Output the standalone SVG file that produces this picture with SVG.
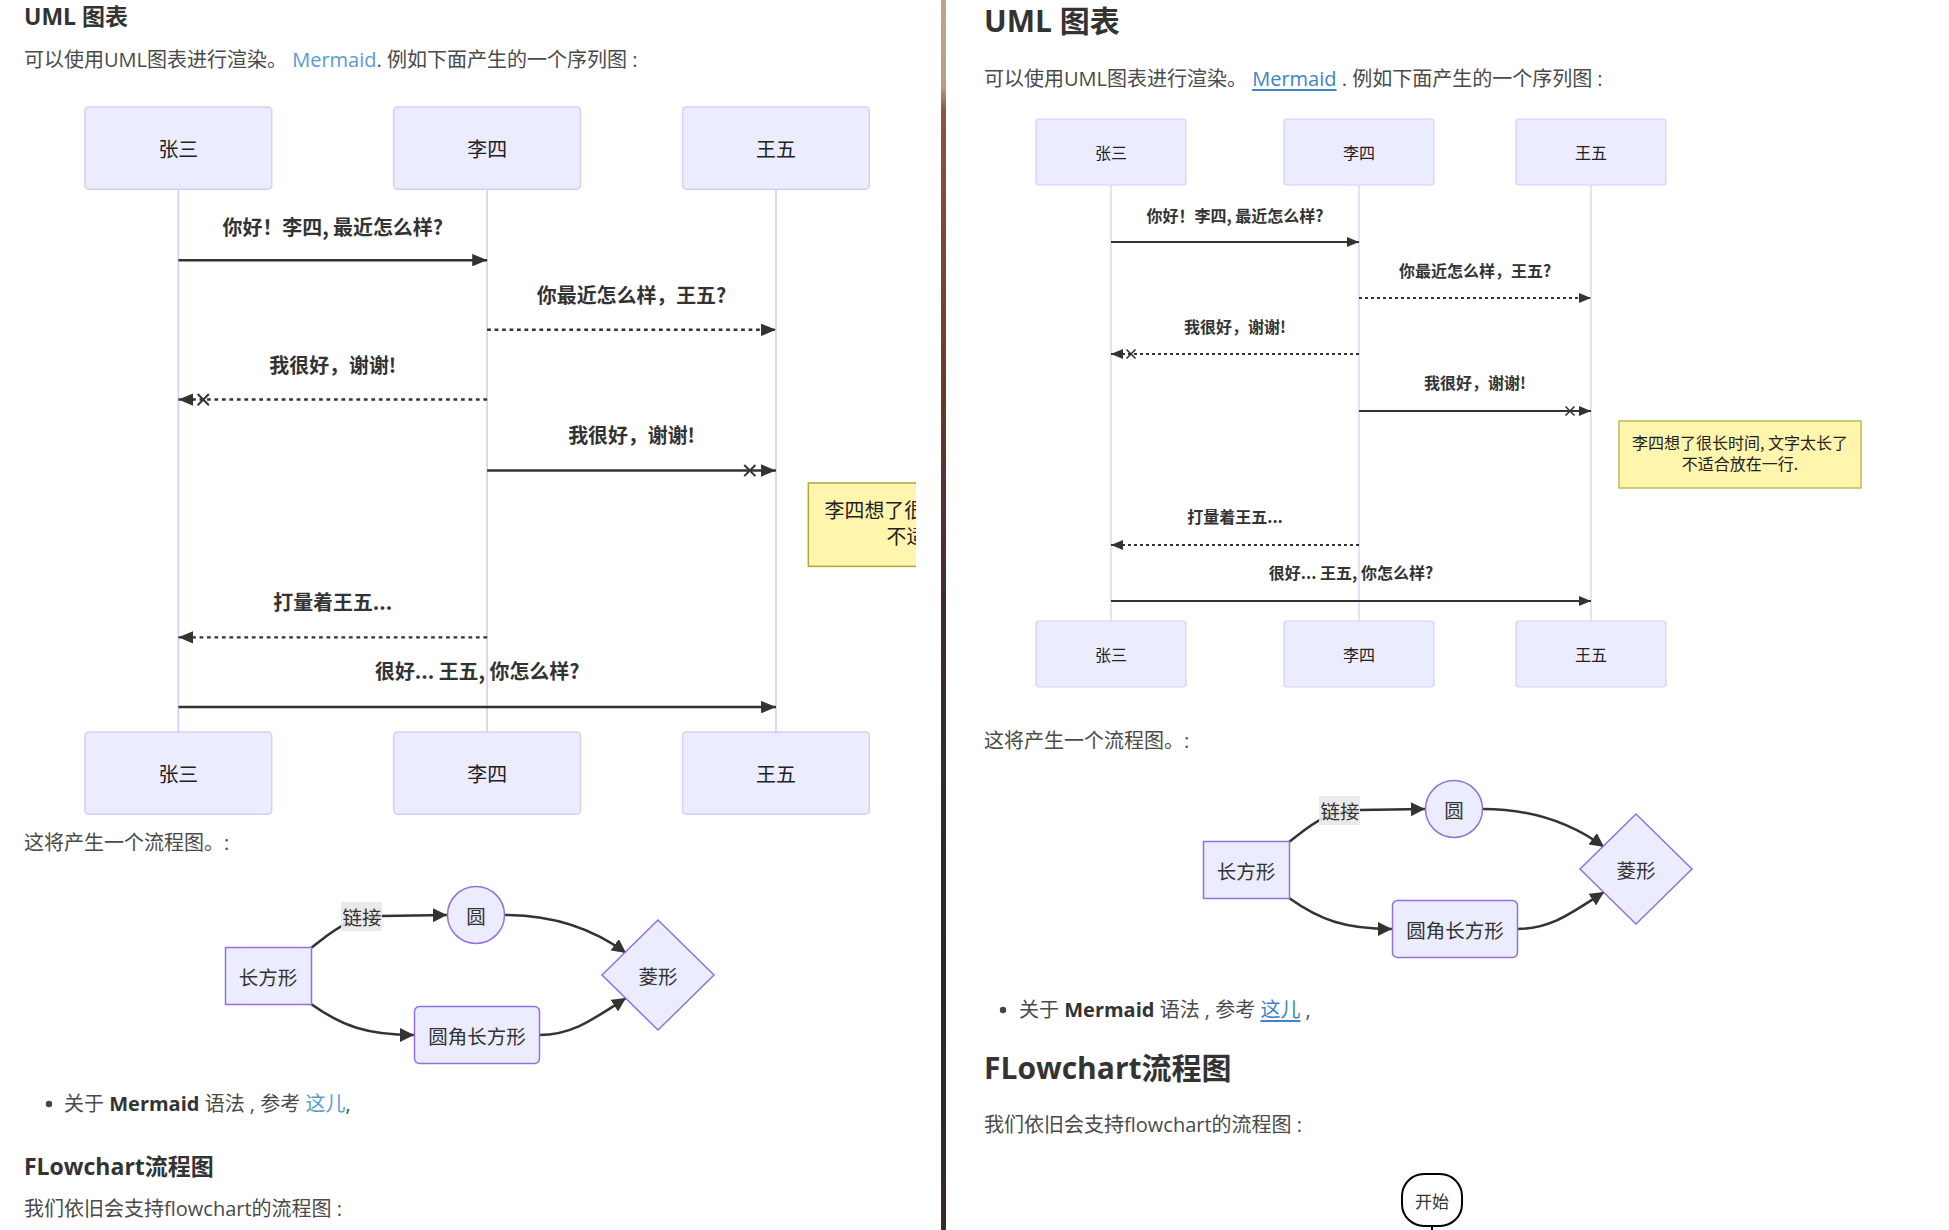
<svg xmlns="http://www.w3.org/2000/svg" width="1949" height="1230" viewBox="0 0 1949 1230">
<style>
.page{font-family:"Open Sans","Noto Sans CJK SC",sans-serif;dominant-baseline:central}
.h1l{font-size:23px;font-weight:bold;fill:#333}
.h1r{font-size:30px;font-weight:bold;fill:#333}
.body{font-size:20px;fill:#4a4a4a}
.link{fill:#4183c4}
.bullet{fill:#444}
.actor rect{fill:#ECECFF;stroke:#D7CDF5;stroke-width:1.2}
.actor text,.note text{font-family:"Noto Sans CJK SC",sans-serif;font-size:16px;fill:#222;text-anchor:middle;dominant-baseline:central}
.life{stroke:#DACEF3;stroke-width:1.3}
.msg{stroke:#333;stroke-width:2;fill:none}
.dot{stroke-dasharray:3,3}
.mlabel{font-family:"Noto Sans CJK SC",sans-serif;font-size:16px;font-weight:bold;fill:#333;text-anchor:middle;dominant-baseline:central}
.cross{stroke:#333;stroke-width:1.6;fill:none}
.note rect{fill:#FFF5AD;stroke:#AAAA33;stroke-width:1.2}
.fnode{fill:#ECECFF;stroke:#9370DB;stroke-width:1.5}
.ftext{font-family:"Noto Sans CJK SC",sans-serif;font-size:19.5px;fill:#333;text-anchor:middle;dominant-baseline:central}
.fedge{stroke:#333;stroke-width:2.5;fill:none}
</style>
<defs>
<marker id="seqArrow" markerUnits="userSpaceOnUse" viewBox="0 0 12 10" refX="12" refY="5" markerWidth="12" markerHeight="10" orient="auto">
<path d="M0,0 L12,5 L0,10 z" fill="#333"/>
</marker>
<marker id="fArrow" markerUnits="userSpaceOnUse" viewBox="0 0 10 10" refX="10" refY="5" markerWidth="14" markerHeight="14" orient="auto">
<path d="M0,0 L10,5 L0,10 z" fill="#333"/>
</marker>
<clipPath id="leftClip"><rect x="0" y="0" width="916" height="1230"/></clipPath>
<linearGradient id="divGrad" x1="0" y1="0" x2="0" y2="1">
<stop offset="0" stop-color="#b9a692"/>
<stop offset="0.07" stop-color="#b3a08b"/>
<stop offset="0.09" stop-color="#8c5446"/>
<stop offset="0.3" stop-color="#6b3b33"/>
<stop offset="0.5" stop-color="#3d2d2b"/>
<stop offset="0.8" stop-color="#2e2626"/>
<stop offset="1" stop-color="#3a2a26"/>
</linearGradient>
</defs>
<rect x="0" y="0" width="1949" height="1230" fill="#ffffff"/>
<rect x="941" y="0" width="5" height="1230" fill="url(#divGrad)"/>

<!-- LEFT PANE TEXT -->
<g class="page">
<text class="h1l" x="24" y="16">UML 图表</text>
<text class="body" x="24" y="59">可以使用UML图表进行渲染。 <tspan fill="#5b9bd1">Mermaid</tspan>. 例如下面产生的一个序列图 :</text>
<text class="body" x="24" y="842">这将产生一个流程图。:</text>
<circle class="bullet" cx="49" cy="1104" r="3.2"/>
<text class="body" x="64" y="1103">关于 <tspan font-weight="bold" fill="#333">Mermaid</tspan> 语法 , 参考 <tspan fill="#5b9bd1">这儿</tspan>,</text>
<text class="h1l" x="24" y="1166">FLowchart流程图</text>
<text class="body" x="24" y="1208">我们依旧会支持flowchart的流程图 :</text>
</g>

<!-- RIGHT PANE TEXT -->
<g class="page">
<text class="h1r" x="984" y="20">UML 图表</text>
<text class="body" x="984" y="78">可以使用UML图表进行渲染。 <tspan class="link" text-decoration="underline">Mermaid</tspan> . 例如下面产生的一个序列图 :</text>
<text class="body" x="984" y="740">这将产生一个流程图。:</text>
<circle class="bullet" cx="1003" cy="1010" r="3.2"/>
<text class="body" x="1019" y="1009">关于 <tspan font-weight="bold" fill="#333">Mermaid</tspan> 语法 , 参考 <tspan class="link" text-decoration="underline">这儿</tspan> ,</text>
<text class="h1r" x="984" y="1067">FLowchart流程图</text>
<text class="body" x="984" y="1124">我们依旧会支持flowchart的流程图 :</text>
</g>

<!-- LEFT SEQUENCE DIAGRAM -->
<g clip-path="url(#leftClip)">
<g id="l-seq" transform="translate(85,107) scale(1.245)">
<g id="l-lifelines">
<line class="life" x1="75" y1="66" x2="75" y2="502"/>
<line class="life" x1="323" y1="66" x2="323" y2="502"/>
<line class="life" x1="555" y1="66" x2="555" y2="502"/>
</g>
<g id="l-actor-zs-top" class="actor"><rect x="0" y="0" width="150" height="66" rx="3"/><text x="75" y="33">张三</text></g>
<g id="l-actor-ls-top" class="actor"><rect x="248" y="0" width="150" height="66" rx="3"/><text x="323" y="33">李四</text></g>
<g id="l-actor-ww-top" class="actor"><rect x="480" y="0" width="150" height="66" rx="3"/><text x="555" y="33">王五</text></g>
<g id="l-actor-zs-bot" class="actor"><rect x="0" y="502" width="150" height="66" rx="3"/><text x="75" y="535">张三</text></g>
<g id="l-actor-ls-bot" class="actor"><rect x="248" y="502" width="150" height="66" rx="3"/><text x="323" y="535">李四</text></g>
<g id="l-actor-ww-bot" class="actor"><rect x="480" y="502" width="150" height="66" rx="3"/><text x="555" y="535">王五</text></g>
<g id="l-messages">
<text class="mlabel" x="199" y="96">你好！李四, 最近怎么样?</text>
<line class="msg" x1="75" y1="123" x2="323" y2="123" marker-end="url(#seqArrow)"/>
<text class="mlabel" x="439" y="151">你最近怎么样，王五?</text>
<line class="msg dot" x1="323" y1="179" x2="555" y2="179" marker-end="url(#seqArrow)"/>
<text class="mlabel" x="199" y="207">我很好，谢谢!</text>
<line class="msg dot" x1="323" y1="235" x2="75" y2="235" marker-end="url(#seqArrow)"/>
<path class="cross" d="M90.5,230.5 L99.5,239.5 M99.5,230.5 L90.5,239.5"/>
<text class="mlabel" x="439" y="263">我很好，谢谢!</text>
<line class="msg" x1="323" y1="292" x2="555" y2="292" marker-end="url(#seqArrow)"/>
<path class="cross" d="M529.5,287.5 L538.5,296.5 M538.5,287.5 L529.5,296.5"/>
<text class="mlabel" x="199" y="397">打量着王五...</text>
<line class="msg dot" x1="323" y1="426" x2="75" y2="426" marker-end="url(#seqArrow)"/>
<text class="mlabel" x="315" y="453">很好... 王五, 你怎么样?</text>
<line class="msg" x1="75" y1="482" x2="555" y2="482" marker-end="url(#seqArrow)"/>
</g>
<g id="l-note" class="note"><rect x="581" y="302" width="242" height="67"/><text x="702" y="323">李四想了很长时间, 文字太长了</text><text x="702" y="344">不适合放在一行.</text></g>
</g>
</g>

<!-- RIGHT SEQUENCE DIAGRAM -->
<g id="r-seq" transform="translate(1036,119)">
<g id="r-lifelines">
<line class="life" x1="75" y1="66" x2="75" y2="502"/>
<line class="life" x1="323" y1="66" x2="323" y2="502"/>
<line class="life" x1="555" y1="66" x2="555" y2="502"/>
</g>
<g id="r-actor-zs-top" class="actor"><rect x="0" y="0" width="150" height="66" rx="3"/><text x="75" y="33">张三</text></g>
<g id="r-actor-ls-top" class="actor"><rect x="248" y="0" width="150" height="66" rx="3"/><text x="323" y="33">李四</text></g>
<g id="r-actor-ww-top" class="actor"><rect x="480" y="0" width="150" height="66" rx="3"/><text x="555" y="33">王五</text></g>
<g id="r-actor-zs-bot" class="actor"><rect x="0" y="502" width="150" height="66" rx="3"/><text x="75" y="535">张三</text></g>
<g id="r-actor-ls-bot" class="actor"><rect x="248" y="502" width="150" height="66" rx="3"/><text x="323" y="535">李四</text></g>
<g id="r-actor-ww-bot" class="actor"><rect x="480" y="502" width="150" height="66" rx="3"/><text x="555" y="535">王五</text></g>
<g id="r-messages">
<text class="mlabel" x="199" y="96">你好！李四, 最近怎么样?</text>
<line class="msg" x1="75" y1="123" x2="323" y2="123" marker-end="url(#seqArrow)"/>
<text class="mlabel" x="439" y="151">你最近怎么样，王五?</text>
<line class="msg dot" x1="323" y1="179" x2="555" y2="179" marker-end="url(#seqArrow)"/>
<text class="mlabel" x="199" y="207">我很好，谢谢!</text>
<line class="msg dot" x1="323" y1="235" x2="75" y2="235" marker-end="url(#seqArrow)"/>
<path class="cross" d="M90.5,230.5 L99.5,239.5 M99.5,230.5 L90.5,239.5"/>
<text class="mlabel" x="439" y="263">我很好，谢谢!</text>
<line class="msg" x1="323" y1="292" x2="555" y2="292" marker-end="url(#seqArrow)"/>
<path class="cross" d="M529.5,287.5 L538.5,296.5 M538.5,287.5 L529.5,296.5"/>
<text class="mlabel" x="199" y="397">打量着王五...</text>
<line class="msg dot" x1="323" y1="426" x2="75" y2="426" marker-end="url(#seqArrow)"/>
<text class="mlabel" x="315" y="453">很好... 王五, 你怎么样?</text>
<line class="msg" x1="75" y1="482" x2="555" y2="482" marker-end="url(#seqArrow)"/>
</g>
<g id="r-note" class="note"><rect x="583" y="302" width="242" height="67"/><text x="704" y="323">李四想了很长时间, 文字太长了</text><text x="704" y="344">不适合放在一行.</text></g>
</g>

<!-- LEFT FLOWCHART -->
<g id="l-flow" transform="translate(-978,106)">
<g id="l-flow-edges">
<path class="fedge" d="M1289,842 C1310,826 1325,811 1360,810 L1425,809" marker-end="url(#fArrow)"/>
<path class="fedge" d="M1483,809 C1530,809 1570,822 1604,847" marker-end="url(#fArrow)"/>
<path class="fedge" d="M1289,898 C1320,920 1345,929 1392,929" marker-end="url(#fArrow)"/>
<path class="fedge" d="M1517,929 C1550,929 1570,914 1604,892" marker-end="url(#fArrow)"/>
<g id="l-edge-label"><rect x="1319" y="796" width="41" height="29" fill="#e8e8e8" opacity="0.9"/><text class="ftext" x="1340" y="810">链接</text></g>
</g>
<g id="l-node-rect"><rect class="fnode" x="1203.5" y="841.5" width="86" height="57"/><text class="ftext" x="1246" y="870">长方形</text></g>
<g id="l-node-circle"><circle class="fnode" cx="1454" cy="809" r="28.5"/><text class="ftext" x="1454" y="809">圆</text></g>
<g id="l-node-round"><rect class="fnode" x="1392.5" y="900.5" width="125" height="57" rx="5"/><text class="ftext" x="1455" y="929">圆角长方形</text></g>
<g id="l-node-diamond"><polygon class="fnode" points="1636,814 1692,869 1636,924 1580,869"/><text class="ftext" x="1636" y="869">菱形</text></g>
</g>

<!-- RIGHT FLOWCHART -->
<g id="r-flow">
<g id="r-flow-edges">
<path class="fedge" d="M1289,842 C1310,826 1325,811 1360,810 L1425,809" marker-end="url(#fArrow)"/>
<path class="fedge" d="M1483,809 C1530,809 1570,822 1604,847" marker-end="url(#fArrow)"/>
<path class="fedge" d="M1289,898 C1320,920 1345,929 1392,929" marker-end="url(#fArrow)"/>
<path class="fedge" d="M1517,929 C1550,929 1570,914 1604,892" marker-end="url(#fArrow)"/>
<g id="r-edge-label"><rect x="1319" y="796" width="41" height="29" fill="#e8e8e8" opacity="0.9"/><text class="ftext" x="1340" y="810">链接</text></g>
</g>
<g id="r-node-rect"><rect class="fnode" x="1203.5" y="841.5" width="86" height="57"/><text class="ftext" x="1246" y="870">长方形</text></g>
<g id="r-node-circle"><circle class="fnode" cx="1454" cy="809" r="28.5"/><text class="ftext" x="1454" y="809">圆</text></g>
<g id="r-node-round"><rect class="fnode" x="1392.5" y="900.5" width="125" height="57" rx="5"/><text class="ftext" x="1455" y="929">圆角长方形</text></g>
<g id="r-node-diamond"><polygon class="fnode" points="1636,814 1692,869 1636,924 1580,869"/><text class="ftext" x="1636" y="869">菱形</text></g>
</g>

<!-- flowchart.js start node -->
<g id="r-start">
<rect x="1402" y="1174" width="60" height="52" rx="22" ry="22" fill="#fff" stroke="#000" stroke-width="2"/>
<text x="1432" y="1200" font-family="Noto Sans CJK SC,sans-serif" font-size="17" fill="#333" text-anchor="middle" dominant-baseline="central">开始</text>
</g>
<g id="r-start-connector"><line x1="1432" y1="1226" x2="1432" y2="1230" stroke="#000" stroke-width="2"/></g>
</svg>
